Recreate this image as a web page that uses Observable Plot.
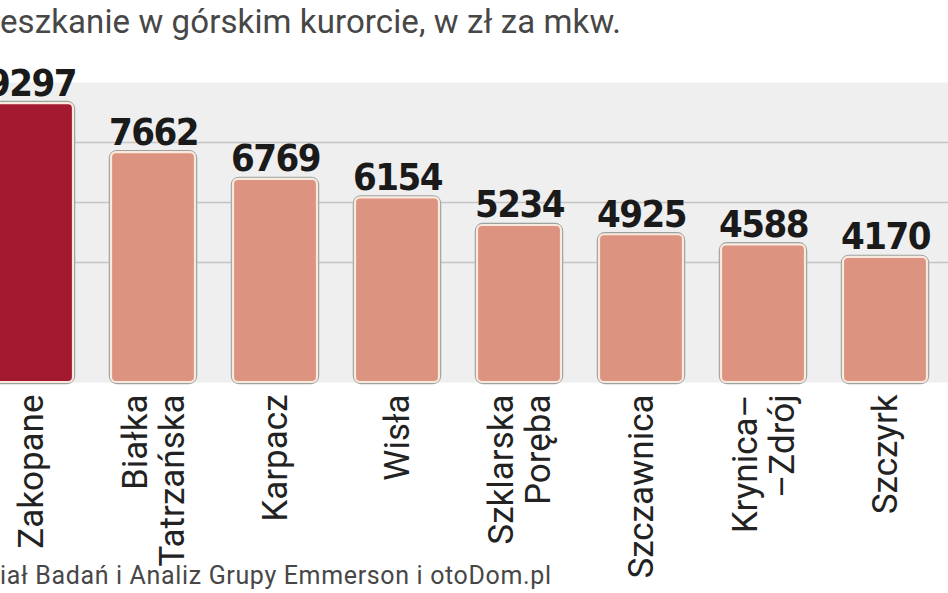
<!DOCTYPE html>
<html>
<head>
<meta charset="utf-8">
<script src="https://cdn.jsdelivr.net/npm/d3@7"></script>
<script src="https://cdn.jsdelivr.net/npm/@observablehq/plot@0.6"></script>
<style>
  html, body { margin: 0; padding: 0; background: #ffffff; width: 948px; height: 593px; overflow: hidden; position: relative; }
  #title { height: 48px; box-sizing: border-box; padding-top: 3px; font-family: "Roboto", sans-serif; font-size: 33px; line-height: 38px; color: #474747; white-space: nowrap; letter-spacing: 0.1px; }
  #caption { position: absolute; left: 0; top: 562px; font-family: "Roboto", sans-serif; font-size: 25px; line-height: 28px; color: #474747; white-space: nowrap; letter-spacing: 0.65px; }
</style>
</head>
<body>
<div id="title">eszkanie w górskim kurorcie, w zł za mkw.</div>
<div id="chart"></div>
<div id="caption">iał Badań i Analiz Grupy Emmerson i otoDom.pl</div>
<script>
const cities = ["Zakopane", "Białka\nTatrzańska", "Karpacz", "Wisła", "Szklarska\nPoręba", "Szczawnica", "Krynica–\n–Zdrój", "Szczyrk"];
const prices = [9297, 7662, 6769, 6154, 5234, 4925, 4588, 4170];
const gridValues = [4000, 6000, 8000];
const highlighted = "Zakopane";

const data = cities.map((c, i) => ({city: c, price: prices[i]}));
const darkRed = "#a3192f";
const salmon = "#dc9481";

const chart = Plot.plot({
  width: 948,
  height: 545,
  marginTop: 34,
  marginBottom: 211,
  marginLeft: 0,
  marginRight: 0,
  style: {background: "transparent", overflow: "hidden"},
  x: {domain: cities, range: [-30, 946], paddingInner: 0.31, paddingOuter: 0.155, axis: null},
  y: {domain: [0, 10000], axis: null},
  color: {type: "identity"},
  marks: [
    Plot.frame({fill: "#efefef", stroke: null}),
    Plot.ruleY(gridValues, {stroke: "#c4c4c4", strokeWidth: 1.3}),
    Plot.barY(data, {x: "city", y: "price", fill: "none", stroke: "#9aa39d", strokeWidth: 4.5, rx: 6}),
    Plot.barY(data, {x: "city", y: "price", fill: d => d.city === highlighted ? darkRed : salmon, stroke: "#fbe9e0", strokeWidth: 2.2, rx: 5}),
    Plot.text(data, {x: "city", y: "price", text: d => String(d.price), dy: -8, lineAnchor: "bottom",
      fontFamily: "'DejaVu Sans Condensed', 'DejaVu Sans', sans-serif", fontWeight: "bold", fontSize: 38, fill: "#1a1a1a"}),
    Plot.text(data, {x: "city", y: () => 0, text: "city", rotate: -90, textAnchor: "end", lineAnchor: "middle",
      lineHeight: 1.06, dy: 12, fontFamily: "Roboto, sans-serif", fontSize: 35, fill: "#222"})
  ]
});
d3.select(chart).selectAll("g[font-weight='bold'] text").attr("letter-spacing", "-1.5px");
document.getElementById("chart").append(chart);
</script>
</body>
</html>
